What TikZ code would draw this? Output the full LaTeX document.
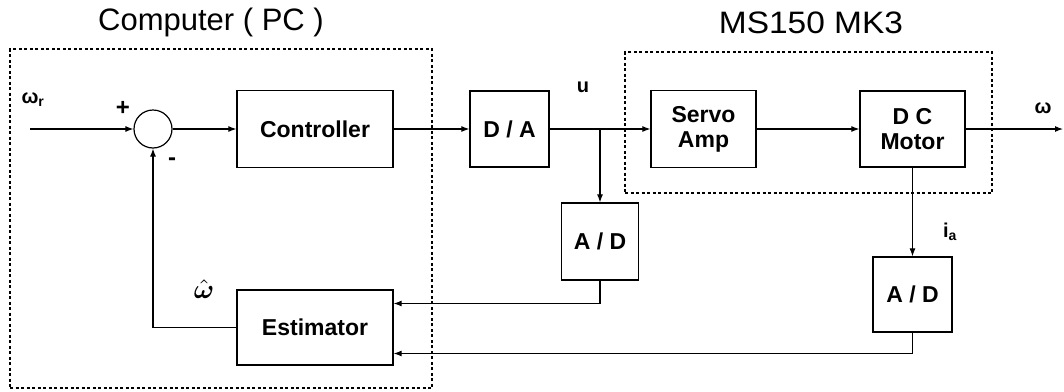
\documentclass[tikz,border=0pt]{standalone}
\usepackage{amsmath}
\usepackage{bm}
\usepackage{fontspec}
\setmainfont{Liberation Sans}
\usetikzlibrary{arrows.meta, positioning, calc}

\begin{document}
\begin{tikzpicture}[
    x=1pt, y=-1pt,
    >={Latex[length=8pt,width=6pt]},
    blk/.style={draw, line width=1.3pt, font=\fontsize{23}{25}\selectfont\bfseries, align=center, inner sep=0pt},
    sig/.style={->, line width=1.1pt},
    grp/.style={draw, line width=1.1pt, dash pattern=on 3pt off 2.5pt},
    ttl/.style={font=\fontsize{31}{33}\selectfont},
    lbl/.style={font=\fontsize{20}{22}\selectfont\bfseries},
]
\useasboundingbox (0,0) rectangle (1064,391);
% ----- groups
\node[grp, minimum width=422, minimum height=339] (pc) at (221,218.5) {};
\node[grp, minimum width=367, minimum height=141] (ms) at (808.5,122.5) {};
\node[ttl] (pctitle) at (211,22) {Computer ( PC )};
\node[ttl] (mstitle) at (811,23) {\scalebox{1.08}[1]{MS150 MK3}};
% ----- blocks
\node[draw, circle, line width=1.2pt, minimum size=38, inner sep=0pt] (sum) at (153,129) {};
\node[blk, minimum width=156, minimum height=77] (ctrl) at (315,129) {Controller};
\node[blk, minimum width=79, minimum height=76] (da) at (509.5,129) {D / A};
\node[blk, minimum width=105, minimum height=77] (servo) at (703.5,129) {Servo\\Amp};
\node[blk, minimum width=105, minimum height=76] (motor) at (912.5,129) {D C\\Motor};
\node[blk, minimum width=77, minimum height=77] (adu) at (600,241.5) {A / D};
\node[blk, minimum width=79, minimum height=75] (adi) at (912.5,294.5) {A / D};
\node[blk, minimum width=156, minimum height=75] (est) at (315,327.5) {Estimator};
% ----- signals
\coordinate (in) at (30,129);
\coordinate (out) at (1063,129);
\coordinate (split) at (da.east -| adu.north);
\draw[sig] (in) -- (sum.west);
\draw[sig] (sum.east) -- (ctrl.west);
\draw[sig] (ctrl.east) -- (da.west);
\draw[sig] (da.east) -- (servo.west);
\draw[sig] (split) -- (adu.north);
\draw[sig] (servo.east) -- (motor.west);
\draw[sig] (motor.east) -- (out);
\draw[sig] (motor.south) -- (adi.north);
\draw[sig] (adu.south) |- ([yshift=24pt]est.east);
\draw[sig] (adi.south) |- ([yshift=-26pt]est.east);
\draw[sig] (est.west) -| (sum.south);
% ----- labels
\node[lbl] (wr) at (33,100) {ω\textsubscript{r}};
\node[font=\fontsize{24}{24}\selectfont\bfseries] (plus) at (123,108) {+};
\node[font=\fontsize{24}{24}\selectfont\bfseries] (minus) at (172,162) {-};
\node[lbl] (u) at (583,87) {u};
\node[lbl] (w) at (1043,108) {ω};
\node[lbl] (ia) at (950,232) {i\textsubscript{a}};
\node (what) at (204,289) {\scalebox{2.7}{$\hat{\bm{\omega}}$}};
\end{tikzpicture}
\end{document}
